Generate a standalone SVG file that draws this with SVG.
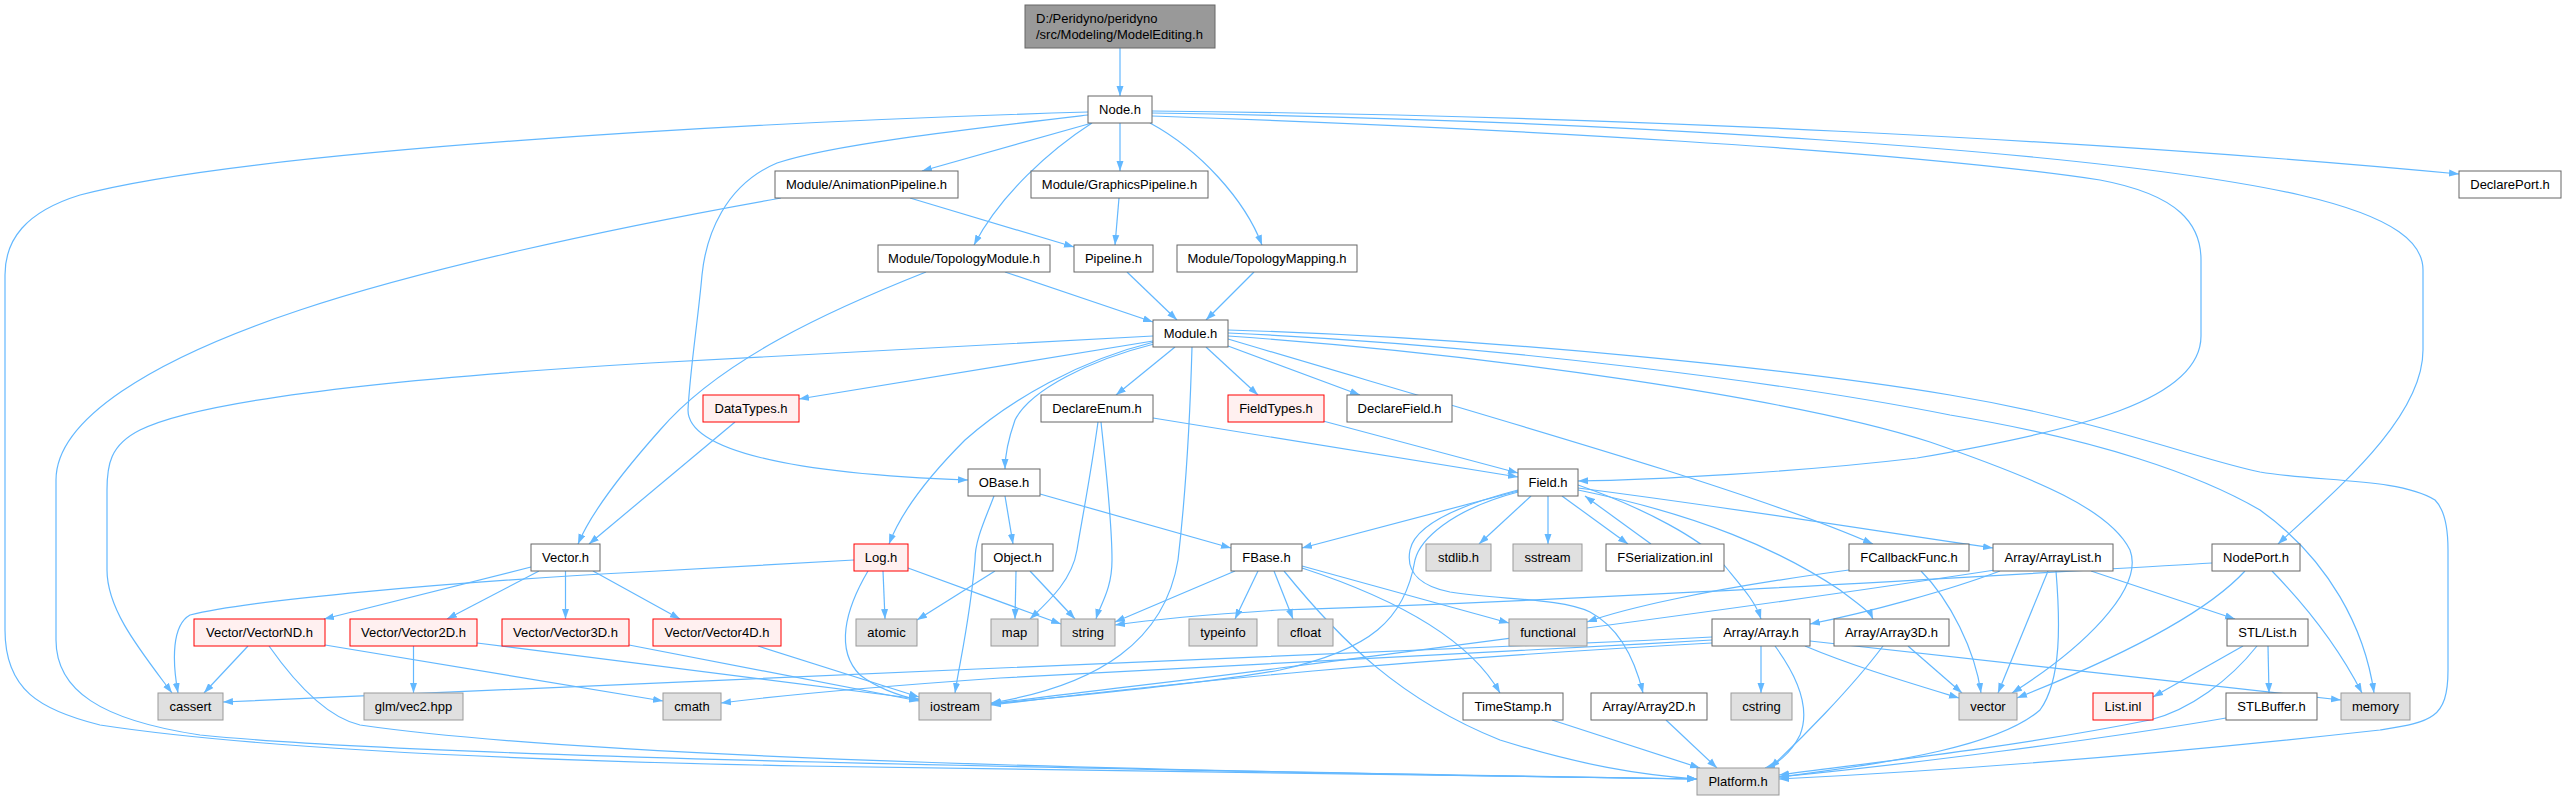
<svg xmlns="http://www.w3.org/2000/svg" width="2567" height="800" viewBox="0 0 2567 800">
<defs>
<style>
text{font-family:"Liberation Sans",Arial,Helvetica,sans-serif;font-size:13px;fill:#000;text-anchor:middle}
.n rect{fill:#fff;stroke:#666;stroke-width:1}
.g rect{fill:#E0E0E0;stroke:#999;stroke-width:1}
.r rect{fill:#FFF0F0;stroke:#F00;stroke-width:1}
.root rect{fill:#999;stroke:#666;stroke-width:1}
.root text{text-anchor:start}
#edges path{fill:none;stroke:#63B8FF;stroke-width:1.2;marker-end:url(#a)}
</style>
<marker id="a" markerWidth="11" markerHeight="8" refX="10" refY="4" orient="auto" markerUnits="userSpaceOnUse"><path d="M0,0.5 L10,4 L0,7.5 z" fill="#63B8FF" stroke="none"/></marker>
</defs>
<rect width="2567" height="800" fill="#fff"/>
<g id="edges">
<path d="M1120,48 L1120,96"/>
<path d="M1088,112 C750,122 250,150 80,195 C25,212 5,240 5,275 L5,630 C5,690 40,710 100,725 C250,748 500,760 800,766 C1200,772 1500,776 1697,779"/>
<path d="M1088,115 C960,130 830,145 777,163 C725,185 706,235 702,275 C698,320 690,370 688,410 C688,450 790,474 968,480"/>
<path d="M1092,123 L922,171"/>
<path d="M1092,123 C1050,150 1000,195 974,245"/>
<path d="M1120,123 L1120,171"/>
<path d="M1150,123 C1200,150 1245,200 1262,245"/>
<path d="M1152,111 C1600,115 2100,140 2459,174"/>
<path d="M1152,116 C1500,128 1900,150 2100,180 C2180,195 2201,225 2201,260 L2201,336 C2201,400 2080,430 1917,458 C1800,472 1650,480 1578,481"/>
<path d="M1152,113 C1600,120 2100,150 2300,195 C2400,218 2423,245 2423,270 L2423,350 C2423,420 2330,495 2278,544"/>
<path d="M910,198 L1074,247"/>
<path d="M781,198 C600,230 420,270 300,310 C150,360 56,420 56,480 L56,640 C56,690 100,720 200,735 C400,755 900,766 1697,779"/>
<path d="M1119,198 L1115,245"/>
<path d="M1005,272 L1153,322"/>
<path d="M926,272 C830,310 720,360 660,430 C620,475 590,515 578,544"/>
<path d="M1127,272 L1177,320"/>
<path d="M1254,272 L1206,320"/>
<path d="M1153,336 L650,363 C400,378 200,400 140,430 C110,445 107,465 107,490 L107,570 C107,610 140,650 172,693"/>
<path d="M1153,341 L799,399"/>
<path d="M1154,342 C1080,360 1010,400 965,440 C925,480 900,515 889,544"/>
<path d="M1154,344 C1090,360 1030,390 1015,420 C1008,440 1005,455 1005,469"/>
<path d="M1175,347 L1116,395"/>
<path d="M1192,347 C1190,420 1185,500 1178,560 C1165,640 1100,685 991,703"/>
<path d="M1206,347 L1258,395"/>
<path d="M1228,346 L1360,395"/>
<path d="M1228,339 C1500,420 1750,490 1873,544"/>
<path d="M1228,330 C1500,338 1800,370 1950,395 C2100,420 2200,460 2260,472 C2320,482 2400,478 2435,500 C2445,510 2448,530 2448,550 L2448,670 C2448,720 2430,722 2380,730 C2200,750 2000,768 1779,779"/>
<path d="M1228,333 C1500,345 1800,385 1950,415 C2100,440 2200,475 2260,510 C2330,560 2365,630 2374,693"/>
<path d="M1228,336 C1500,355 1800,400 1930,442 C2040,480 2110,510 2130,550 C2145,590 2080,650 2012,693"/>
<path d="M735,422 L589,544"/>
<path d="M1153,418 L1518,477"/>
<path d="M1098,422 C1090,480 1080,530 1077,550 C1072,580 1050,600 1030,619"/>
<path d="M1101,422 C1106,470 1112,520 1112,560 C1112,590 1100,605 1096,619"/>
<path d="M1323,421 L1518,473"/>
<path d="M1005,496 L1013,544"/>
<path d="M994,496 C985,520 975,540 975,560 C970,620 960,660 955,693"/>
<path d="M1040,494 L1231,548"/>
<path d="M854,560 L640,572 C450,582 250,600 190,615 C172,625 172,660 178,693"/>
<path d="M883,571 L885,619"/>
<path d="M908,568 L1061,624"/>
<path d="M868,571 C845,610 835,650 860,675 C880,690 900,696 919,700"/>
<path d="M995,571 L917,620"/>
<path d="M1016,571 L1015,619"/>
<path d="M1030,571 L1075,619"/>
<path d="M531,567 L324,619"/>
<path d="M539,571 L447,619"/>
<path d="M565.5,571 L565.5,619"/>
<path d="M593,571 L680,619"/>
<path d="M248,646 L204,693"/>
<path d="M269,646 C300,690 330,718 360,725 C600,760 1200,772 1697,779"/>
<path d="M325,645 L663,701"/>
<path d="M413.5,646 L413.5,693"/>
<path d="M477,643 L919,699"/>
<path d="M629,645 L919,701"/>
<path d="M758,646 L919,697"/>
<path d="M1235,571 L1115,622"/>
<path d="M1258,571 L1235,619"/>
<path d="M1274,571 L1293,619"/>
<path d="M1302,566 L1509,623"/>
<path d="M1302,568 C1400,600 1470,640 1500,693"/>
<path d="M1284,571 C1340,640 1400,700 1500,740 C1580,765 1640,775 1697,779"/>
<path d="M1518,491 L1302,548"/>
<path d="M1531,496 L1479,544"/>
<path d="M1548,496 L1548,544"/>
<path d="M1562,496 L1628,544"/>
<path d="M1651,544 L1585,496"/>
<path d="M1578,488 C1750,510 1900,535 1993,548"/>
<path d="M1578,485 C1650,510 1700,540 1720,560 C1740,585 1755,600 1761,619"/>
<path d="M1578,490 C1700,515 1780,550 1840,590 C1860,605 1870,612 1873,619"/>
<path d="M1518,490 C1460,505 1415,525 1410,550 C1405,575 1425,587 1450,592 C1500,600 1560,598 1590,612 C1620,628 1635,660 1643,693"/>
<path d="M1518,492 C1450,510 1420,540 1415,560 C1405,620 1370,650 1280,670 C1200,685 1050,698 991,704"/>
<path d="M1810,641 L2341,700"/>
<path d="M1805,646 C1850,665 1900,680 1959,698"/>
<path d="M1775,646 C1800,680 1810,710 1800,735 C1790,755 1775,765 1765,768"/>
<path d="M1761,646 L1761,693"/>
<path d="M1712,637 C1500,648 1300,657 1000,668 C700,680 400,692 223,702"/>
<path d="M1712,640 C1500,652 1300,664 1000,678 C900,685 800,693 721,703"/>
<path d="M1712,643 C1400,660 1200,680 991,705"/>
<path d="M1995,570 C1800,600 1500,640 1280,668 C1150,685 1050,695 991,704"/>
<path d="M2000,571 C1950,590 1870,612 1810,624"/>
<path d="M2048,571 L1998,693"/>
<path d="M2091,571 L2235,619"/>
<path d="M2056,571 C2060,620 2062,680 2040,710 C2000,745 1900,762 1779,777"/>
<path d="M2212,563 C2000,575 1600,600 1280,610 C1200,615 1150,620 1115,625"/>
<path d="M2245,571 C2200,620 2100,665 2017,698"/>
<path d="M2272,571 C2310,610 2340,650 2362,693"/>
<path d="M2243,646 L2153,697"/>
<path d="M2268,646 L2269,693"/>
<path d="M2257,646 C2230,680 2190,710 2150,720 C2000,750 1850,765 1779,775"/>
<path d="M2226,718 C2100,740 1900,765 1779,777"/>
<path d="M1883,646 C1850,690 1800,740 1770,768"/>
<path d="M1908,646 L1962,693"/>
<path d="M1849,570 C1700,590 1620,610 1587,622"/>
<path d="M1921,571 C1950,600 1975,650 1981,693"/>
<path d="M1552,720 L1700,768"/>
<path d="M1666,720 L1717,768"/>
</g>
<g id="ModelEditing" class="root"><rect x="1025" y="5" width="190" height="43"/><text x="1036" y="23">D:/Peridyno/peridyno</text><text x="1036" y="39">/src/Modeling/ModelEditing.h</text></g>
<g id="Node" class="n"><rect x="1088" y="96" width="64" height="27"/><text x="1120" y="114">Node.h</text></g>
<g id="AnimationPipeline" class="n"><rect x="775" y="171" width="183" height="27"/><text x="866.5" y="189">Module/AnimationPipeline.h</text></g>
<g id="GraphicsPipeline" class="n"><rect x="1031" y="171" width="177" height="27"/><text x="1119.5" y="189">Module/GraphicsPipeline.h</text></g>
<g id="DeclarePort" class="n"><rect x="2459" y="171" width="102" height="27"/><text x="2510" y="189">DeclarePort.h</text></g>
<g id="TopologyModule" class="n"><rect x="878" y="245" width="172" height="27"/><text x="964" y="263">Module/TopologyModule.h</text></g>
<g id="Pipeline" class="n"><rect x="1074" y="245" width="79" height="27"/><text x="1113.5" y="263">Pipeline.h</text></g>
<g id="TopologyMapping" class="n"><rect x="1177" y="245" width="180" height="27"/><text x="1267" y="263">Module/TopologyMapping.h</text></g>
<g id="Module" class="n"><rect x="1153" y="320" width="75" height="27"/><text x="1190.5" y="338">Module.h</text></g>
<g id="DataTypes" class="r"><rect x="703" y="395" width="96" height="27"/><text x="751" y="413">DataTypes.h</text></g>
<g id="DeclareEnum" class="n"><rect x="1041" y="395" width="112" height="27"/><text x="1097" y="413">DeclareEnum.h</text></g>
<g id="FieldTypes" class="r"><rect x="1228" y="395" width="96" height="27"/><text x="1276" y="413">FieldTypes.h</text></g>
<g id="DeclareField" class="n"><rect x="1347" y="395" width="105" height="27"/><text x="1399.5" y="413">DeclareField.h</text></g>
<g id="OBase" class="n"><rect x="968" y="469" width="72" height="27"/><text x="1004" y="487">OBase.h</text></g>
<g id="Field" class="n"><rect x="1518" y="469" width="60" height="27"/><text x="1548" y="487">Field.h</text></g>
<g id="Vector" class="n"><rect x="531" y="544" width="69" height="27"/><text x="565.5" y="562">Vector.h</text></g>
<g id="Log" class="r"><rect x="854" y="544" width="54" height="27"/><text x="881" y="562">Log.h</text></g>
<g id="Object" class="n"><rect x="982" y="544" width="71" height="27"/><text x="1017.5" y="562">Object.h</text></g>
<g id="FBase" class="n"><rect x="1231" y="544" width="71" height="27"/><text x="1266.5" y="562">FBase.h</text></g>
<g id="stdlib" class="g"><rect x="1426" y="544" width="65" height="27"/><text x="1458.5" y="562">stdlib.h</text></g>
<g id="sstream" class="g"><rect x="1513" y="544" width="69" height="27"/><text x="1547.5" y="562">sstream</text></g>
<g id="FSerialization" class="n"><rect x="1606" y="544" width="118" height="27"/><text x="1665" y="562">FSerialization.inl</text></g>
<g id="FCallbackFunc" class="n"><rect x="1849" y="544" width="120" height="27"/><text x="1909" y="562">FCallbackFunc.h</text></g>
<g id="ArrayList" class="n"><rect x="1993" y="544" width="120" height="27"/><text x="2053" y="562">Array/ArrayList.h</text></g>
<g id="NodePort" class="n"><rect x="2212" y="544" width="88" height="27"/><text x="2256" y="562">NodePort.h</text></g>
<g id="VectorND" class="r"><rect x="194" y="619" width="131" height="27"/><text x="259.5" y="637">Vector/VectorND.h</text></g>
<g id="Vector2D" class="r"><rect x="350" y="619" width="127" height="27"/><text x="413.5" y="637">Vector/Vector2D.h</text></g>
<g id="Vector3D" class="r"><rect x="502" y="619" width="127" height="27"/><text x="565.5" y="637">Vector/Vector3D.h</text></g>
<g id="Vector4D" class="r"><rect x="653" y="619" width="128" height="27"/><text x="717" y="637">Vector/Vector4D.h</text></g>
<g id="atomic" class="g"><rect x="856" y="619" width="61" height="27"/><text x="886.5" y="637">atomic</text></g>
<g id="map" class="g"><rect x="991" y="619" width="47" height="27"/><text x="1014.5" y="637">map</text></g>
<g id="string" class="g"><rect x="1061" y="619" width="54" height="27"/><text x="1088" y="637">string</text></g>
<g id="typeinfo" class="g"><rect x="1189" y="619" width="68" height="27"/><text x="1223" y="637">typeinfo</text></g>
<g id="cfloat" class="g"><rect x="1278" y="619" width="55" height="27"/><text x="1305.5" y="637">cfloat</text></g>
<g id="functional" class="g"><rect x="1509" y="619" width="78" height="27"/><text x="1548" y="637">functional</text></g>
<g id="Array" class="n"><rect x="1712" y="619" width="98" height="27"/><text x="1761" y="637">Array/Array.h</text></g>
<g id="Array3D" class="n"><rect x="1834" y="619" width="115" height="27"/><text x="1891.5" y="637">Array/Array3D.h</text></g>
<g id="STLList" class="n"><rect x="2227" y="619" width="81" height="27"/><text x="2267.5" y="637">STL/List.h</text></g>
<g id="cassert" class="g"><rect x="158" y="693" width="65" height="27"/><text x="190.5" y="711">cassert</text></g>
<g id="glmvec2" class="g"><rect x="364" y="693" width="99" height="27"/><text x="413.5" y="711">glm/vec2.hpp</text></g>
<g id="cmath" class="g"><rect x="663" y="693" width="58" height="27"/><text x="692" y="711">cmath</text></g>
<g id="iostream" class="g"><rect x="919" y="693" width="72" height="27"/><text x="955" y="711">iostream</text></g>
<g id="TimeStamp" class="n"><rect x="1463" y="693" width="100" height="27"/><text x="1513" y="711">TimeStamp.h</text></g>
<g id="Array2D" class="n"><rect x="1591" y="693" width="116" height="27"/><text x="1649" y="711">Array/Array2D.h</text></g>
<g id="cstring" class="g"><rect x="1731" y="693" width="61" height="27"/><text x="1761.5" y="711">cstring</text></g>
<g id="vector" class="g"><rect x="1959" y="693" width="58" height="27"/><text x="1988" y="711">vector</text></g>
<g id="ListInl" class="r"><rect x="2093" y="693" width="60" height="27"/><text x="2123" y="711">List.inl</text></g>
<g id="STLBuffer" class="n"><rect x="2226" y="693" width="91" height="27"/><text x="2271.5" y="711">STLBuffer.h</text></g>
<g id="memory" class="g"><rect x="2341" y="693" width="69" height="27"/><text x="2375.5" y="711">memory</text></g>
<g id="Platform" class="g"><rect x="1697" y="768" width="82" height="27"/><text x="1738" y="786">Platform.h</text></g>
</svg>
